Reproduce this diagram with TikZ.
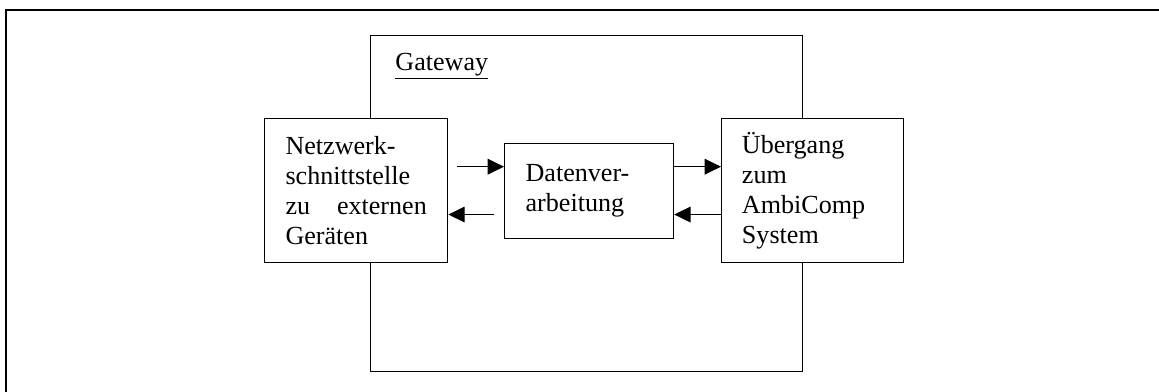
\documentclass[tikz,border=0pt]{standalone}
\usepackage{fontspec}
\setmainfont{Liberation Serif}
\usetikzlibrary{arrows.meta}

\tikzset{
    box/.style={draw, line width=0.6pt, fill=white, anchor=north west,
        inner sep=0pt, font=\fontsize{12}{13.8}\selectfont},
    pfeil/.style={line width=0.5pt, -{Triangle[length=7.5pt,width=7.2pt]}},
}

\begin{document}
\begin{tikzpicture}[x=0.46pt, y=-0.46pt]

    \useasboundingbox (0,0) rectangle (1159,392);

    % Rahmen
    \draw [line width=0.9pt] (6,392) -- (6,10) -- (1159,10);

    \node [draw, line width=0.6pt, anchor=north west, minimum width=198.7pt,
        minimum height=154.6pt] (gateway) at (370,35) {};
    \node [anchor=base west, inner sep=0pt, font=\fontsize{12}{13.8}\selectfont]
        (gwtitel) at (395,70) {\underline{Gateway}};

    \node [box, minimum width=84.2pt, minimum height=66.2pt, text width=65pt,
        align=left] (netz) at (264,118)
        {Netzwerk-\\schnittstelle\\zu\hfill externen\\Ger\"aten};
    \node [box, minimum width=77.7pt, minimum height=43.7pt, text width=58.4pt,
        align=left] (daten) at (504,143)
        {Datenver-\\arbeitung};
    \node [box, minimum width=83.7pt, minimum height=66.2pt, text width=65pt,
        align=left] (uebergang) at (721,118)
        {\"Ubergang\\zum\\AmbiComp\\System};

    \coordinate (hin) at ([yshift=11pt]netz.east);
    \coordinate (rueck) at ([yshift=-11pt]netz.east);

    \begin{scope}[pfeil]
        \draw [shorten <=4.1pt] (hin) -- (hin -| daten.west);
        \draw [shorten <=4.5pt] (rueck -| daten.west) -- (rueck);
        \draw (hin -| daten.east) -- (hin -| uebergang.west);
        \draw (rueck -| uebergang.west) -- (rueck -| daten.east);
    \end{scope}

\end{tikzpicture}
\end{document}
